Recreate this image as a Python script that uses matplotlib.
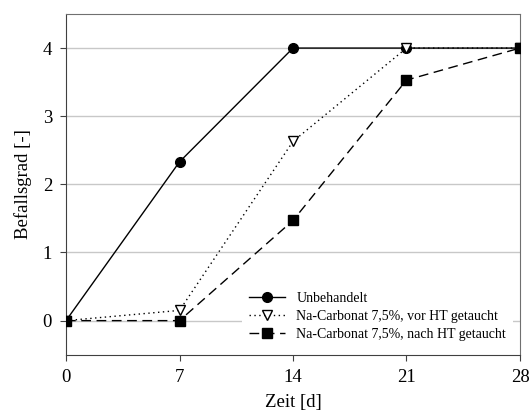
import matplotlib.pyplot as plt

plt.rcParams['font.family'] = ['Liberation Serif', 'DejaVu Serif']

days = [0, 7, 14, 21, 28]
unbehandelt = [0, 2.33, 4, 4, 4]
vor_ht = [0, 0.15, 2.63, 4, 4]
nach_ht = [0, 0, 1.47, 3.53, 4]

fig = plt.figure(figsize=(5.3, 4.18), dpi=100)
ax = fig.add_axes([66 / 530, 1 - 354.7 / 418, 454 / 530, 340.7 / 418])

ax.plot(days, unbehandelt, color='black', lw=1, marker='o', ms=7,
        label='Unbehandelt', zorder=3)
ax.plot(days, vor_ht, color='black', lw=1, ls=(0, (1, 2.5)), marker='v', ms=7,
        mfc='white', mec='black', label='Na-Carbonat 7,5%, vor HT getaucht', zorder=3)
ax.plot(days, nach_ht, color='black', lw=1, ls=(0, (7, 4)), marker='s', ms=6.5,
        label='Na-Carbonat 7,5%, nach HT getaucht', zorder=3)

ax.set_xlim(0, 28)
ax.set_ylim(-0.5, 4.5)
ax.set_xticks(days)
ax.set_yticks([0, 1, 2, 3, 4])
ax.yaxis.grid(True, color='#c8c8c8', lw=1)
ax.set_axisbelow(True)
for s in ['top', 'right']:
    ax.spines[s].set_color('#707070')
for s in ['left', 'bottom']:
    ax.spines[s].set_color('#404040')
ax.tick_params(axis='both', direction='out', length=4, color='#404040',
               labelsize=13.5, pad=6)

ax.set_xlabel('Zeit [d]', fontsize=13.5, labelpad=6)
ax.set_ylabel('Befallsgrad [-]', fontsize=13.5, labelpad=8)

leg = ax.legend(loc='lower right', bbox_to_anchor=(1.0, 0.0), frameon=True,
                fontsize=10, handlelength=2.6, handletextpad=0.8,
                labelspacing=0.35, borderpad=0.5)
leg.get_frame().set_edgecolor('none')
leg.get_frame().set_facecolor('white')
leg.get_frame().set_alpha(1)

fig.savefig('out.png', dpi=100)
